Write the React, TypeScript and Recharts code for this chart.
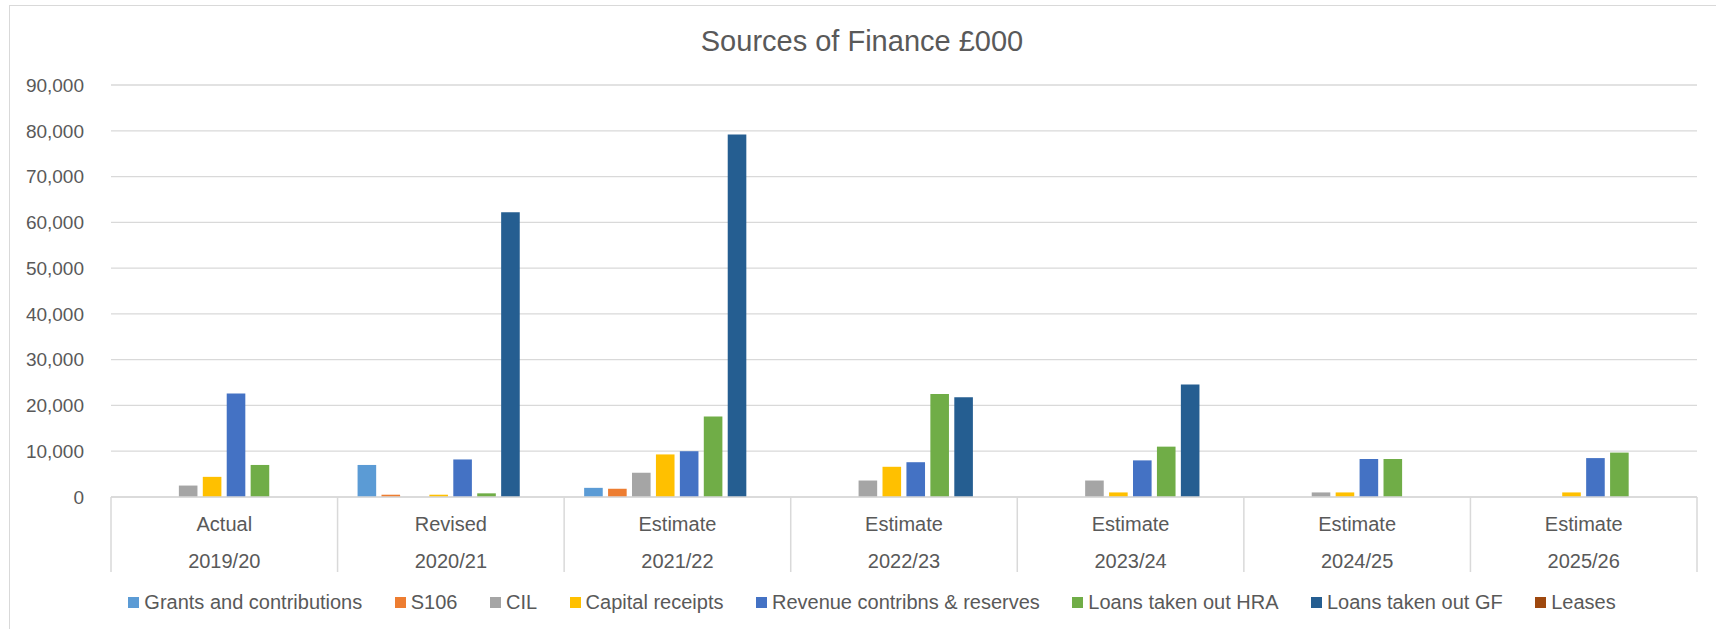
import React from 'react';
import { BarChart, Bar, XAxis, YAxis, CartesianGrid, Legend } from 'recharts';

const years = ['2019/20', '2020/21', '2021/22', '2022/23', '2023/24', '2024/25', '2025/26'];
const stages = ['Actual', 'Revised', 'Estimate', 'Estimate', 'Estimate', 'Estimate', 'Estimate'];

const grants = [0, 7000, 2000, 0, 0, 0, 0];
const s106 = [0, 500, 1800, 0, 0, 0, 0];
const cil = [2500, 0, 5300, 3600, 3600, 1000, 0];
const capitalReceipts = [4400, 500, 9300, 6600, 1000, 1000, 1000];
const revenue = [22600, 8200, 10000, 7600, 8000, 8300, 8500];
const loansHRA = [7000, 800, 17600, 22500, 11000, 8300, 9700];
const loansGF = [0, 62200, 79200, 21800, 24600, 0, 0];
const leases = [0, 0, 0, 0, 0, 0, 0];

const yTicks = [0, 10000, 20000, 30000, 40000, 50000, 60000, 70000, 80000, 90000];

const seriesNames = [
  'Grants and contributions',
  'S106',
  'CIL',
  'Capital receipts',
  'Revenue contribns & reserves',
  'Loans taken out HRA',
  'Loans taken out GF',
  'Leases',
];
const seriesKeys = ['grants', 's106', 'cil', 'capital', 'revenue', 'hra', 'gf', 'leases'];
const seriesColors = ['#5B9BD5', '#ED7D31', '#A5A5A5', '#FFC000', '#4472C4', '#70AD47', '#255E91', '#9E480E'];
const seriesValues = [grants, s106, cil, capitalReceipts, revenue, loansHRA, loansGF, leases];

const data = years.map((year, i) => {
  const row: Record<string, string | number> = { year, stage: stages[i] };
  seriesKeys.forEach((k, s) => {
    row[k] = seriesValues[s][i];
  });
  return row;
});

const FONT = '"Liberation Sans", Arial, sans-serif';
const TEXT = '#595959';
const GRID = '#D9D9D9';

const W = 1716;
const H = 629;
const MARGIN = { top: 85, right: 19, bottom: 12, left: 11 };
const Y_W = 100;
const PLOT_W = W - MARGIN.left - MARGIN.right - Y_W;
const BAND = PLOT_W / years.length;

const fmt = (v: number) => v.toLocaleString('en-GB');

function CategoryTick(props: any) {
  const { x, y, payload } = props;
  const i = payload.index as number;
  const left = x - BAND / 2;
  const right = x + BAND / 2;
  return (
    <g>
      <line x1={left} y1={y} x2={left} y2={y + 75} stroke={GRID} strokeWidth={1.5} />
      {i === years.length - 1 && (
        <line x1={right} y1={y} x2={right} y2={y + 75} stroke={GRID} strokeWidth={1.5} />
      )}
      <text x={x} y={y + 27} textAnchor="middle" dominantBaseline="central" fill={TEXT} fontSize={20} fontFamily={FONT}>
        {stages[i]}
      </text>
      <text x={x} y={y + 64} textAnchor="middle" dominantBaseline="central" fill={TEXT} fontSize={20} fontFamily={FONT}>
        {payload.value}
      </text>
    </g>
  );
}

function LegendContent() {
  return (
    <div
      style={{
        display: 'flex',
        justifyContent: 'center',
        alignItems: 'center',
        height: 30,
        paddingLeft: 28,
        boxSizing: 'border-box',
        gap: 32.5,
        fontFamily: FONT,
        fontSize: 20,
        color: TEXT,
        whiteSpace: 'nowrap',
      }}
    >
      {seriesNames.map((name, s) => (
        <div key={name} style={{ display: 'flex', alignItems: 'center' }}>
          <span style={{ display: 'inline-block', width: 11, height: 11, background: seriesColors[s], marginRight: 5 }} />
          <span>{name}</span>
        </div>
      ))}
    </div>
  );
}

export default function App() {
  return (
    <div style={{ position: 'absolute', left: 0, top: 0, width: W, height: H, overflow: 'hidden', background: '#fff' }}>
      <div
        style={{
          position: 'absolute',
          left: 9,
          top: 5,
          width: W + 100,
          height: H + 100,
          borderLeft: `1.5px solid ${GRID}`,
          borderTop: `1.5px solid ${GRID}`,
        }}
      />
      <div
        style={{
          position: 'absolute',
          left: 0,
          top: 25,
          width: 1724,
          textAlign: 'center',
          fontFamily: FONT,
          fontSize: 29,
          lineHeight: '33px',
          color: TEXT,
          whiteSpace: 'nowrap',
        }}
      >
        Sources of Finance £000
      </div>
      <div style={{ position: 'absolute', left: 0, top: 0 }}>
        <BarChart width={W} height={H} data={data} margin={MARGIN} barSize={18.6} barGap={5.33}>
          <CartesianGrid vertical={false} stroke={GRID} strokeWidth={1.3} />
          <XAxis
            dataKey="year"
            interval={0}
            height={90}
            tickLine={false}
            tickSize={0}
            tickMargin={0}
            axisLine={{ stroke: GRID, strokeWidth: 1.5 }}
            tick={<CategoryTick />}
          />
          <YAxis
            width={Y_W}
            domain={[0, 90000]}
            ticks={yTicks}
            interval={0}
            axisLine={false}
            tickLine={false}
            tickMargin={21}
            tickFormatter={fmt}
            tick={{ fill: TEXT, fontSize: 19, fontFamily: FONT }}
          />
          <Legend
            verticalAlign="bottom"
            wrapperStyle={{ left: 0, bottom: 12, width: W, height: 30 }}
            content={<LegendContent />}
          />
          {seriesKeys.map((k, s) => (
            <Bar key={k} dataKey={k} name={seriesNames[s]} fill={seriesColors[s]} isAnimationActive={false} />
          ))}
        </BarChart>
      </div>
    </div>
  );
}
